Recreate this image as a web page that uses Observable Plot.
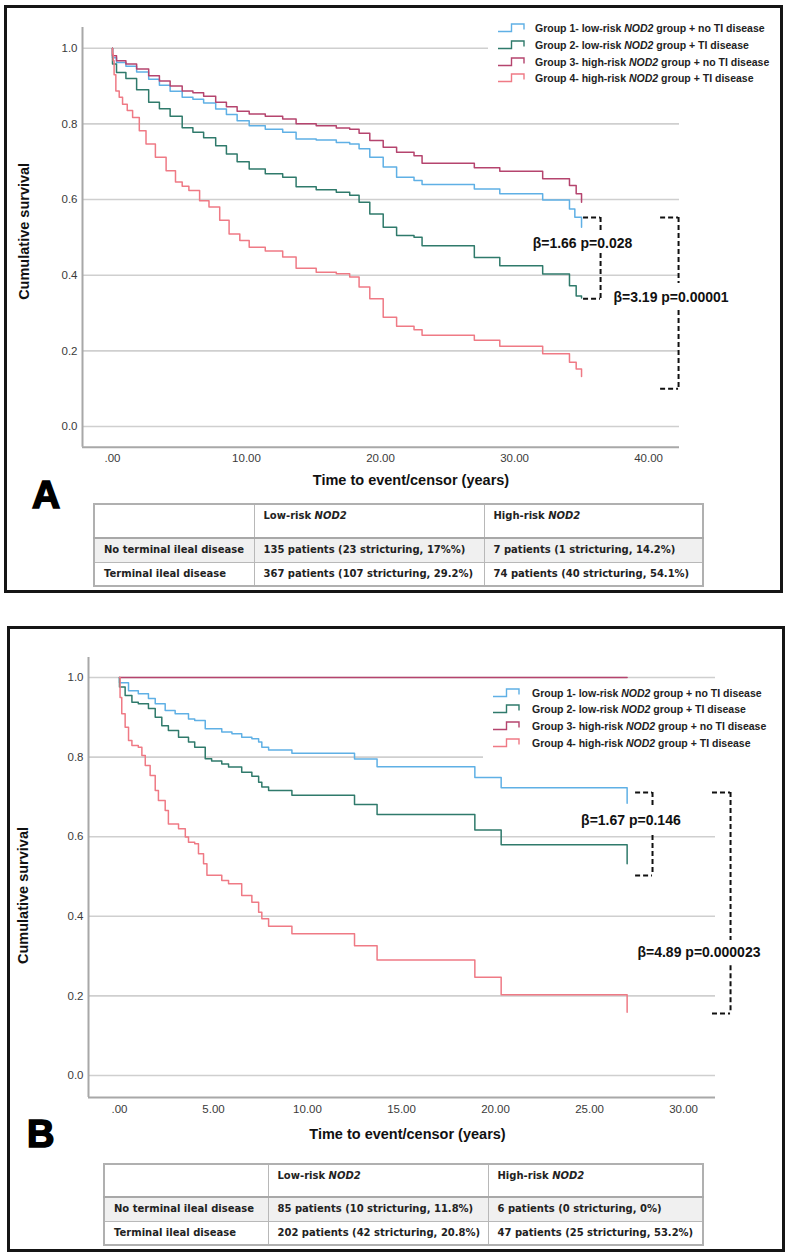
<!DOCTYPE html>
<html><head><meta charset="utf-8">
<script src="https://cdn.jsdelivr.net/npm/d3@7"></script>
<script src="https://cdn.jsdelivr.net/npm/@observablehq/plot@0.6"></script>
<style>
html,body{margin:0;padding:0;background:#fff;}
#page{position:relative;width:790px;height:1256px;overflow:hidden;font-family:"Liberation Sans",Arial,sans-serif;background:#fff;}
.box{position:absolute;border:3px solid #151515;box-sizing:border-box;pointer-events:none;z-index:10;}
.letter{position:absolute;font-family:"Liberation Sans",Arial,sans-serif;font-weight:bold;color:#000;-webkit-text-stroke:1.6px #000;line-height:1;}
.legend{position:absolute;background:#fff;z-index:5;}
.legrow{position:absolute;left:0;height:12px;line-height:12px;white-space:nowrap;font-size:10.5px;font-weight:bold;color:#222;width:100%;}
.legrow svg{position:absolute;top:1px;}
.legrow span{position:absolute;top:0;}
table.t{position:absolute;border-collapse:collapse;font-family:"DejaVu Sans",Verdana,sans-serif;font-size:10px;font-weight:bold;color:#222;table-layout:fixed;border:2px solid #b0b0b0;}
table.t td{border:1px solid #b8b8b8;padding:0 0 0 9px;white-space:nowrap;overflow:hidden;line-height:12px;}
table.t tr.h td{vertical-align:top;padding-top:5px;border-bottom:2px solid #a8a8a8;}
table.t tr.r1 td{background:#f0f0f0;}
</style>
</head><body>
<div id="page"></div>
<script>
// ---------- categories / labels ----------
const groups = ["Group 1", "Group 2", "Group 3", "Group 4"];
const groupColors = ["#5fb0e5", "#2f7a6b", "#b5446e", "#ef7a85"];
const legendLabels = [
  "Group 1- low-risk NOD2 group + no TI disease",
  "Group 2- low-risk NOD2 group + TI disease",
  "Group 3- high-risk NOD2 group + no TI disease",
  "Group 4- high-risk NOD2 group + TI disease"
];
const yTicks = [0, 0.2, 0.4, 0.6, 0.8, 1.0];
const xTicksA = [0, 10, 20, 30, 40];
const xTicksB = [0, 5, 10, 15, 20, 25, 30];
const xLabel = "Time to event/censor (years)";
const yLabel = "Cumulative survival";

// ---------- Panel A survival curves ----------
const a1_t = [0, 0, 0.3, 1.0, 1.8, 2.7, 3.5, 4.3, 5.2, 6.0, 6.8, 7.7, 8.5, 9.3, 10.2, 11.4, 12.7, 13.7, 15.2, 16.7, 17.7, 18.4, 19.2, 20.2, 21.2, 22.5, 23.1, 27.0, 28.9, 32.1, 34.1, 34.5, 35.0];
const a1_s = [1, 0.975, 0.962, 0.952, 0.937, 0.918, 0.902, 0.886, 0.870, 0.865, 0.855, 0.839, 0.825, 0.808, 0.795, 0.786, 0.778, 0.760, 0.757, 0.751, 0.747, 0.734, 0.712, 0.686, 0.659, 0.650, 0.640, 0.628, 0.615, 0.599, 0.575, 0.553, 0.527];
const a2_t = [0, 0, 0.3, 1.0, 1.8, 2.7, 3.5, 4.3, 5.2, 6.0, 6.8, 7.7, 8.5, 9.3, 10.2, 11.4, 12.7, 13.7, 15.2, 16.7, 17.7, 18.4, 19.2, 20.2, 21.2, 22.5, 23.1, 27.0, 28.9, 32.1, 34.1, 34.6, 35.0];
const a2_s = [1, 0.958, 0.936, 0.920, 0.890, 0.857, 0.840, 0.820, 0.790, 0.778, 0.763, 0.742, 0.720, 0.700, 0.681, 0.668, 0.659, 0.634, 0.626, 0.619, 0.611, 0.593, 0.562, 0.527, 0.505, 0.500, 0.478, 0.447, 0.425, 0.403, 0.372, 0.345, 0.340];
const a3_t = [0, 0, 0.3, 1.0, 1.8, 2.7, 3.5, 4.3, 5.2, 6.0, 6.8, 7.7, 8.5, 9.3, 10.2, 11.4, 12.7, 13.7, 15.2, 16.7, 17.7, 18.4, 19.2, 20.2, 21.2, 22.5, 23.1, 27.0, 28.9, 32.1, 34.1, 34.6, 35.0];
const a3_s = [1, 0.980, 0.967, 0.958, 0.945, 0.927, 0.913, 0.900, 0.887, 0.882, 0.873, 0.857, 0.845, 0.833, 0.826, 0.820, 0.813, 0.800, 0.795, 0.789, 0.786, 0.775, 0.756, 0.738, 0.725, 0.716, 0.696, 0.684, 0.675, 0.655, 0.637, 0.615, 0.593];
const a4_t = [0, 0, 0.05, 0.12, 0.25, 0.5, 0.75, 1.1, 1.5, 2.0, 2.5, 3.2, 4.0, 4.7, 5.2, 5.7, 6.5, 7.2, 8.0, 8.7, 9.5, 10.2, 11.4, 12.7, 13.7, 15.2, 16.7, 17.7, 18.4, 19.2, 20.2, 21.2, 22.5, 23.1, 27.0, 28.9, 32.1, 34.1, 34.6, 35.0];
const a4_s = [1, 0.985, 0.967, 0.930, 0.887, 0.870, 0.852, 0.835, 0.817, 0.782, 0.747, 0.712, 0.676, 0.646, 0.635, 0.624, 0.597, 0.580, 0.545, 0.509, 0.492, 0.474, 0.464, 0.448, 0.418, 0.408, 0.404, 0.395, 0.369, 0.338, 0.289, 0.265, 0.256, 0.241, 0.228, 0.212, 0.192, 0.170, 0.152, 0.132];

// ---------- Panel B survival curves ----------
const b1_t = [0, 0, 0.48, 1.0, 1.54, 1.9, 2.43, 2.96, 3.67, 4.0, 4.56, 5.44, 5.98, 6.5, 7.04, 7.4, 7.57, 7.93, 9.17, 12.5, 13.7, 18.9, 20.3, 27.0];
const b1_s = [1, 0.987, 0.967, 0.959, 0.947, 0.934, 0.917, 0.909, 0.896, 0.892, 0.871, 0.863, 0.859, 0.850, 0.846, 0.838, 0.825, 0.818, 0.810, 0.795, 0.776, 0.749, 0.723, 0.684];
const b2_t = [0, 0, 0.3, 0.66, 1.0, 1.54, 1.9, 2.25, 2.6, 3.14, 3.67, 4.0, 4.56, 4.9, 5.44, 5.8, 6.5, 7.04, 7.4, 7.57, 7.93, 9.17, 12.5, 13.7, 18.9, 20.3, 27.0];
const b2_s = [1, 0.976, 0.955, 0.938, 0.934, 0.922, 0.900, 0.879, 0.867, 0.850, 0.838, 0.825, 0.796, 0.790, 0.783, 0.775, 0.762, 0.752, 0.737, 0.725, 0.716, 0.704, 0.681, 0.656, 0.617, 0.580, 0.532];
const b3_t = [0, 27.0];
const b3_s = [1, 1];
const b4_t = [0, 0.03, 0.12, 0.3, 0.48, 0.66, 1.0, 1.19, 1.37, 1.63, 1.9, 2.07, 2.43, 2.6, 3.14, 3.5, 3.67, 4.0, 4.2, 4.47, 4.65, 5.44, 5.8, 6.5, 7.04, 7.4, 7.57, 7.93, 9.17, 12.5, 13.7, 18.9, 20.3, 27.0];
const b4_s = [1, 0.950, 0.909, 0.875, 0.842, 0.829, 0.825, 0.804, 0.779, 0.754, 0.716, 0.691, 0.666, 0.632, 0.620, 0.599, 0.586, 0.582, 0.557, 0.532, 0.503, 0.490, 0.482, 0.452, 0.435, 0.410, 0.394, 0.375, 0.356, 0.326, 0.290, 0.247, 0.203, 0.159];

// ---------- annotations (data coordinates) ----------
const annA_text = [{x: 35.07, y: 0.484, text: "β=1.66 p=0.028"}, {x: 41.68, y: 0.341, text: "β=3.19 p=0.00001"}];
const annA_h = [{x1: 35.15, x2: 36.42, y: 0.5525}, {x1: 35.15, x2: 36.42, y: 0.338}, {x1: 40.9, x2: 42.24, y: 0.5525}, {x1: 40.9, x2: 42.24, y: 0.10}];
const annA_v = [{x: 36.42, y1: 0.5525, y2: 0.518}, {x: 36.42, y1: 0.457, y2: 0.338}, {x: 42.24, y1: 0.5525, y2: 0.378}, {x: 42.24, y1: 0.3066, y2: 0.10}];
const annB_text = [{x: 27.2, y: 0.641, text: "β=1.67 p=0.146"}, {x: 30.82, y: 0.309, text: "β=4.89 p=0.000023"}];
const annB_h = [{x1: 27.45, x2: 28.35, y: 0.711}, {x1: 27.45, x2: 28.35, y: 0.5025}, {x1: 31.54, x2: 32.5, y: 0.711}, {x1: 31.54, x2: 32.5, y: 0.156}];
const annB_v = [{x: 28.35, y1: 0.711, y2: 0.678}, {x: 28.35, y1: 0.603, y2: 0.5025}, {x: 32.5, y1: 0.711, y2: 0.339}, {x: 32.5, y1: 0.276, y2: 0.156}];

// ---------- tables ----------
const tableHeader = ["", "Low-risk NOD2", "High-risk NOD2"];
const tableRowNames = ["No terminal ileal disease", "Terminal ileal disease"];
const tableA_low = ["135 patients (23 stricturing, 17%%)", "367 patients (107 stricturing, 29.2%)"];
const tableA_high = ["7 patients (1 stricturing, 14.2%)", "74 patients (40 stricturing, 54.1%)"];
const tableB_low = ["85 patients (10 stricturing, 11.8%)", "202 patients (42 stricturing, 20.8%)"];
const tableB_high = ["6 patients (0 stricturing, 0%)", "47 patients (25 stricturing, 53.2%)"];

// ---------- build ----------
const page = document.getElementById("page");
function series(name, t, s) { return t.map((d, i) => ({group: name, t: d, s: s[i]})); }
const dataA = [...series(groups[0], a1_t, a1_s), ...series(groups[1], a2_t, a2_s), ...series(groups[2], a3_t, a3_s), ...series(groups[3], a4_t, a4_s)];
const dataB = [...series(groups[0], b1_t, b1_s), ...series(groups[1], b2_t, b2_s), ...series(groups[2], b3_t, b3_s), ...series(groups[3], b4_t, b4_s)];
const fmtX = d => d === 0 ? ".00" : d.toFixed(2);
const fmtY = d => d.toFixed(1);

function km({data, xDomain, yDomain, xTicks, width, height, margins, xlab, ylab, annText, annH, annV}) {
  const dash = {stroke: "#111", strokeWidth: 2, strokeDasharray: "5,3"};
  return Plot.plot({
    width, height,
    marginLeft: margins[0], marginRight: margins[1], marginTop: margins[2], marginBottom: margins[3],
    x: {domain: xDomain}, y: {domain: yDomain},
    color: {domain: groups, range: groupColors},
    style: {background: "transparent", fontFamily: "Liberation Sans, Arial, sans-serif", fontSize: "11.5px", color: "#3a3a3a", overflow: "visible"},
    marks: [
      Plot.ruleY(yTicks, {stroke: "#cfcfcf", strokeWidth: 1.6}),
      Plot.ruleX([xDomain[0]], {stroke: "#a8a8a8", strokeWidth: 2}),
      Plot.ruleY([yDomain[0]], {stroke: "#a8a8a8", strokeWidth: 2}),
      Plot.axisX(xTicks, {tickSize: 0, tickPadding: 7, tickFormat: fmtX, label: null}),
      Plot.axisY(yTicks, {tickSize: 0, tickPadding: 5, tickFormat: fmtY, label: null}),
      Plot.line(data, {x: "t", y: "s", z: "group", stroke: "group", curve: "step-after", strokeWidth: 1.5}),
      Plot.ruleY(annH, {x1: "x1", x2: "x2", y: "y", ...dash}),
      Plot.ruleX(annV, {x: "x", y1: "y1", y2: "y2", ...dash}),
      Plot.text(annText, {x: "x", y: "y", text: "text", fontWeight: "bold", fontSize: 14, fill: "#111", textAnchor: "middle"}),
      Plot.text([xlab.text], {frameAnchor: "bottom", textAnchor: "middle", dx: xlab.dx, dy: xlab.dy, fontWeight: "bold", fontSize: 14.5, fill: "#111"}),
      Plot.text([ylab.text], {frameAnchor: "left", textAnchor: "middle", rotate: -90, dx: ylab.dx, dy: ylab.dy, fontWeight: "bold", fontSize: 14.5, fill: "#111"})
    ]
  });
}

const svgA = km({
  data: dataA, xDomain: [-2.239, 42.31], yDomain: [-0.0547, 1.0547], xTicks: xTicksA,
  width: 790, height: 500, margins: [82, 111, 27, 53.3],
  xlab: {text: xLabel, dx: 30, dy: 38}, ylab: {text: yLabel, dx: -58, dy: -6},
  annText: annA_text, annH: annA_h, annV: annA_v
});
svgA.style.position = "absolute"; svgA.style.left = "0px"; svgA.style.top = "0px";
page.append(svgA);

const svgB = km({
  data: dataB, xDomain: [-1.649, 31.70], yDomain: [-0.0553, 1.0503], xTicks: xTicksB,
  width: 790, height: 540, margins: [88, 75, 37, 63],
  xlab: {text: xLabel, dx: 5.5, dy: 41}, ylab: {text: yLabel, dx: -65, dy: 18},
  annText: annB_text, annH: annB_h, annV: annB_v
});
svgB.style.position = "absolute"; svgB.style.left = "0px"; svgB.style.top = "620px";
page.append(svgB);

function italNOD(s) { return s.replace("NOD2", "<i>NOD2</i>"); }

function legend(left, top, width, height, symLeft, textLeft, rowCenters) {
  const div = document.createElement("div");
  div.className = "legend";
  Object.assign(div.style, {left: left + "px", top: top + "px", width: width + "px", height: height + "px"});
  legendLabels.forEach((lab, i) => {
    const row = document.createElement("div");
    row.className = "legrow";
    row.style.top = (rowCenters[i] - 6) + "px";
    row.innerHTML = `<svg width="27" height="10" style="left:${symLeft}px"><path d="M0,8.5 H13.5 V1 H26 V6.5" fill="none" stroke="${groupColors[i]}" stroke-width="1.4"/></svg><span style="left:${textLeft}px">${italNOD(lab)}</span>`;
    div.append(row);
  });
  page.append(div);
}
legend(488, 16, 290, 72, 10, 47, [12, 29, 46, 62]);
legend(483, 682, 295, 78, 10, 49, [11, 27, 44, 61]);

function table(left, top, widths, heights, low, high) {
  const t = document.createElement("table");
  t.className = "t";
  Object.assign(t.style, {left: left + "px", top: top + "px", width: widths.reduce((a, b) => a + b, 0) + "px"});
  let html = "<colgroup>" + widths.map(w => `<col style="width:${w}px">`).join("") + "</colgroup>";
  html += `<tr class="h" style="height:${heights[0]}px">` + tableHeader.map(h => `<td>${italNOD(h)}</td>`).join("") + "</tr>";
  tableRowNames.forEach((r, i) => {
    html += `<tr class="r${i + 1}" style="height:${heights[i + 1]}px"><td>${r}</td><td>${low[i]}</td><td>${high[i]}</td></tr>`;
  });
  t.innerHTML = html;
  page.append(t);
}
table(93, 503, [160, 230, 219], [34, 24, 24], tableA_low, tableA_high);
table(103, 1163, [164, 220, 215], [33, 24, 24], tableB_low, tableB_high);

function letter(ch, left, top, size) {
  const d = document.createElement("div");
  d.className = "letter";
  d.textContent = ch;
  Object.assign(d.style, {left: left + "px", top: top + "px", fontSize: size + "px"});
  page.append(d);
}
letter("A", 32, 475, 39);
letter("B", 27, 1115, 38);

function box(l, t, r, b) {
  const d = document.createElement("div");
  d.className = "box";
  Object.assign(d.style, {left: l + "px", top: t + "px", width: (r - l) + "px", height: (b - t) + "px"});
  page.append(d);
}
box(4, 5, 783, 593);
box(7, 626, 785, 1252);
</script>
</body></html>
